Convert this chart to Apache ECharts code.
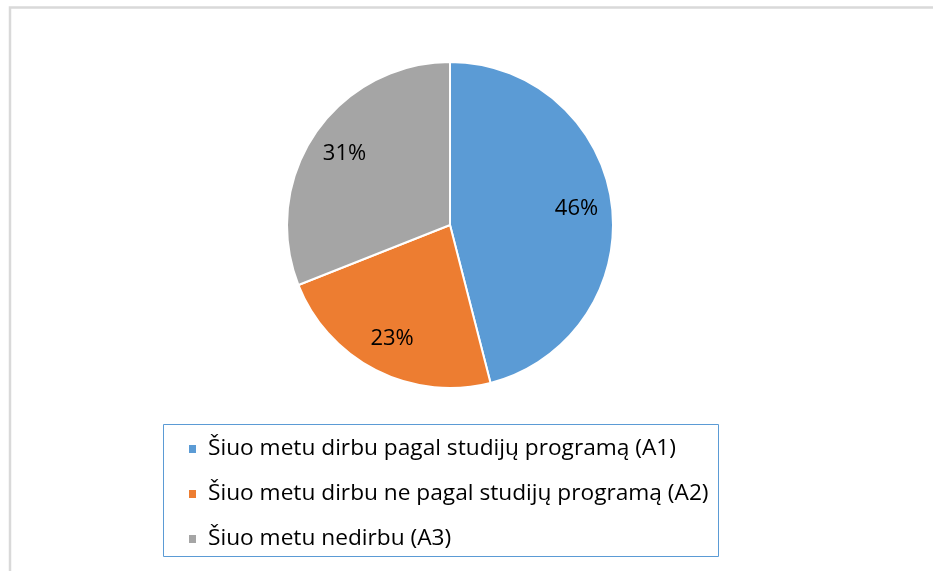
<!DOCTYPE html>
<html>
<head>
<meta charset="utf-8">
<script src="https://cdn.jsdelivr.net/npm/echarts@6/dist/echarts.min.js"></script>
<style>
html,body{margin:0;padding:0;background:#fff;}
#chart{width:933px;height:571px;}
</style>
</head>
<body>
<div id="chart"></div>
<script>
const categories = [
  'Šiuo metu dirbu pagal studijų programą (A1)',
  'Šiuo metu dirbu ne pagal studijų programą (A2)',
  'Šiuo metu nedirbu (A3)'
];
const values = [46, 23, 31];
const colors = ['#5b9bd5', '#ed7d31', '#a5a5a5'];

const FONT = "'Open Sans', Lato, 'Liberation Sans', sans-serif";
const pieData = categories.map((c, i) => ({ name: c, value: values[i], itemStyle: { color: colors[i] } }));
const labelData = categories.map((c, i) => ({ name: c, value: values[i] }));

const chart = echarts.init(document.getElementById('chart'), null, { renderer: 'canvas' });
chart.setOption({
  backgroundColor: '#fff',
  animation: false,
  graphic: [
    { type: 'polyline', silent: true, shape: { points: [[10, 580], [10, 7.5], [940, 7.5]] },
      style: { stroke: '#d9d9d9', lineWidth: 2.5, fill: null } },
    { type: 'rect', silent: true, shape: { x: 163.5, y: 424.5, width: 555, height: 132 },
      style: { stroke: '#5b9bd5', lineWidth: 1, fill: null } }
  ],
  legend: {
    orient: 'vertical',
    left: 187,
    top: 437,
    padding: 0,
    itemWidth: 9,
    itemHeight: 10,
    itemGap: 21,
    icon: 'rect',
    data: categories,
    textStyle: { fontFamily: FONT, fontSize: 22.7, color: '#000', lineHeight: 24, padding: [0, 0, 0, 6] },
    selectedMode: false
  },
  series: [
    {
      type: 'pie',
      center: [450, 225],
      radius: [0, 163],
      startAngle: 90,
      clockwise: true,
      label: { show: false },
      labelLine: { show: false },
      itemStyle: { borderColor: '#fff', borderWidth: 2 },
      emphasis: { disabled: true },
      data: pieData
    },
    {
      type: 'pie',
      center: [450, 225],
      radius: [86, 163],
      startAngle: 90,
      clockwise: true,
      silent: true,
      legendHoverLink: false,
      itemStyle: { color: 'rgba(0,0,0,0)' },
      label: {
        show: true,
        position: 'inside',
        formatter: p => p.value + '%',
        fontFamily: FONT,
        fontSize: 22,
        color: '#000'
      },
      labelLine: { show: false },
      emphasis: { disabled: true },
      data: labelData
    }
  ]
});
</script>
</body>
</html>
